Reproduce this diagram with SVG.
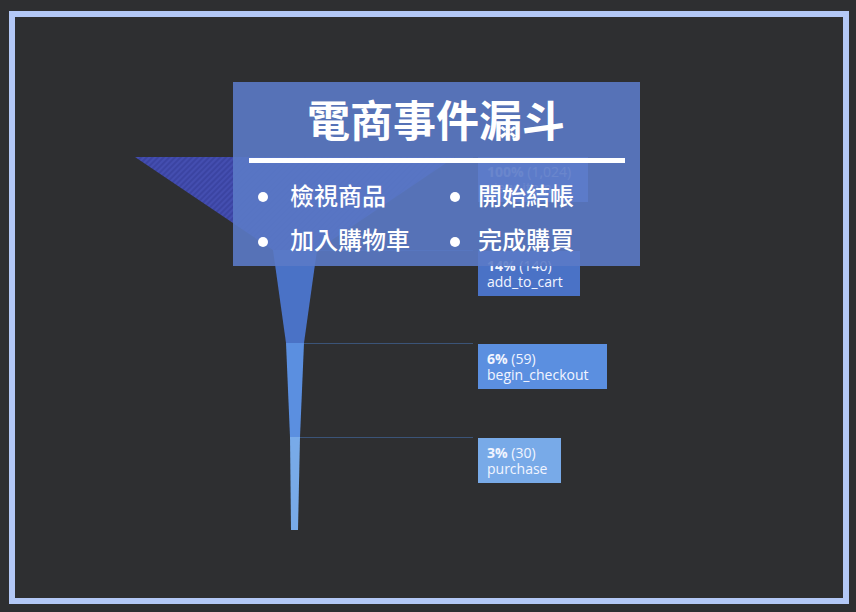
<svg xmlns="http://www.w3.org/2000/svg" width="856" height="612" viewBox="0 0 856 612">
  <style>
    .lbl { font-family: "Open Sans", "Noto Sans", sans-serif; font-size: 14px; fill: #f2f5ff; }
    .lbl .b { font-weight: 700; }
    .conn { stroke: #3b5478; stroke-width: 1; fill: none; }
    .cjk { font-family: "Noto Sans CJK TC", "Noto Sans CJK SC", sans-serif; fill: #ffffff; }
    .item { font-size: 24px; font-weight: 500; }
  </style>
  <defs>
    <pattern id="hatch" width="4" height="4" patternUnits="userSpaceOnUse" patternTransform="rotate(45)">
      <rect width="4" height="4" fill="#3b44a2"/>
      <rect width="2" height="4" fill="#444eb0"/>
    </pattern>
  </defs>
  <rect x="0" y="0" width="856" height="612" fill="#2e2f31"/>
  <rect x="12" y="14" width="834" height="587" fill="none" stroke="#b3c8f6" stroke-width="6"/>

  <g id="funnel">
    <polygon id="seg-view_item" points="135,157 455,157 317,250 273,250" fill="url(#hatch)"/>
    <polygon id="seg-add_to_cart" points="273,250 317,250 304,343 286,343" fill="#4a72c6"/>
    <polygon id="seg-begin_checkout" points="286,343 304,343 300,437 290,437" fill="#5b8fe0"/>
    <polygon id="seg-purchase" points="290,437 300,437 298,530 291,530" fill="#78aae8"/>
  </g>

  <g id="connectors">
    <line class="conn" x1="455" y1="157.5" x2="473" y2="157.5"/>
    <line class="conn" x1="317" y1="250.5" x2="473" y2="250.5"/>
    <line class="conn" x1="304" y1="343.5" x2="473" y2="343.5"/>
    <line class="conn" x1="300" y1="437.5" x2="473" y2="437.5"/>
  </g>

  <g id="label-view_item">
    <rect x="478" y="157" width="110" height="45" fill="#6a86dc"/>
    <text class="lbl" x="487" y="177"><tspan class="b">100%</tspan> (1,024)</text>
    <text class="lbl" x="487" y="193">view_item</text>
  </g>
  <g id="label-add_to_cart">
    <rect x="478" y="251" width="102" height="45" fill="#4a72c6"/>
    <text class="lbl" x="487" y="271"><tspan class="b">14%</tspan> (140)</text>
    <text class="lbl" x="487" y="287">add_to_cart</text>
  </g>
  <g id="label-begin_checkout">
    <rect x="478" y="344" width="129" height="45" fill="#5b8fe0"/>
    <text class="lbl" x="487" y="364"><tspan class="b">6%</tspan> (59)</text>
    <text class="lbl" x="487" y="380">begin_checkout</text>
  </g>
  <g id="label-purchase">
    <rect x="478" y="438" width="83" height="45" fill="#78aae8"/>
    <text class="lbl" x="487" y="458"><tspan class="b">3%</tspan> (30)</text>
    <text class="lbl" x="487" y="474">purchase</text>
  </g>

  <g id="legend">
    <rect x="233" y="82" width="407" height="184" fill="#5b7ac6" fill-opacity="0.9"/>
    <text class="cjk" x="436" y="137" text-anchor="middle" font-size="43" font-weight="700">電商事件漏斗</text>
    <rect x="249" y="158" width="376" height="5" fill="#ffffff"/>
    <circle cx="263" cy="197" r="5" fill="#ffffff"/>
    <text class="cjk item" x="290" y="205">檢視商品</text>
    <circle cx="455" cy="197" r="5" fill="#ffffff"/>
    <text class="cjk item" x="478" y="205">開始結帳</text>
    <circle cx="263" cy="242" r="5" fill="#ffffff"/>
    <text class="cjk item" x="290" y="249">加入購物車</text>
    <circle cx="455" cy="242" r="5" fill="#ffffff"/>
    <text class="cjk item" x="478" y="249">完成購買</text>
  </g>
</svg>
